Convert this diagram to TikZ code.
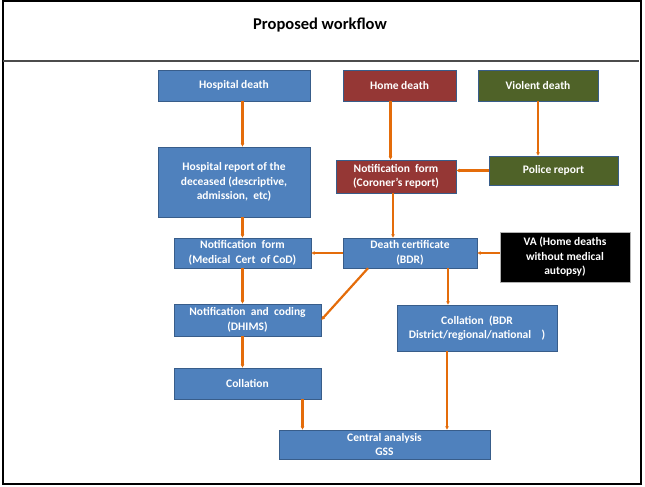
\documentclass[tikz,border=0pt]{standalone}
\usepackage{fontspec}
\setmainfont{Carlito}
\usetikzlibrary{arrows.meta}

\definecolor{boxblue}{HTML}{4F81BD}
\definecolor{boxline}{HTML}{385D8A}
\definecolor{homered}{HTML}{953735}
\definecolor{violgreen}{HTML}{4F6228}
\definecolor{flowor}{HTML}{E46C0A}

\begin{document}
\begin{tikzpicture}
[
	x=1pt,y=-1pt,
	stepbox/.style={draw=boxline,fill=boxblue,text=white,align=center,inner sep=1pt,
	  font=\fontsize{11.5}{14.5}\selectfont\bfseries},
	homebox/.style={stepbox,fill=homered,draw=boxline},
	violbox/.style={stepbox,fill=violgreen,draw=boxline},
	vabox/.style={stepbox,fill=black,draw=gray!60},
	flow/.style={-{Latex[length=3.5pt,width=4pt]},line width=2.2pt,flowor}
]

	% frame
	\useasboundingbox (0,0) rectangle (645,487);
	\draw[line width=2pt] (3,1) rectangle (641,484);
	\draw[line width=1.4pt,black!70] (3,61) -- (639,61);
	\node[font=\fontsize{16.5}{19}\selectfont\bfseries] (title) at (320,25) {Proposed workflow};

	% boxes
	\node[stepbox,minimum width=152,minimum height=31] (hdeath) at (234,85.5) {Hospital death};
	\node[homebox,minimum width=113,minimum height=31] (homedeath) at (399.5,85.5) {Home death};
	\node[violbox,minimum width=120,minimum height=31] (violent) at (538,85.5) {Violent death};
	\node[stepbox,minimum width=152,minimum height=70] (hreport) at (234,182)
	  {Hospital report of the\\ deceased (descriptive,\\ admission,\ \ etc)};
	\node[homebox,minimum width=120,minimum height=33] (coroner) at (396,176.5)
	  {Notification\ \ form\\ (Coroner's report)};
	\node[violbox,minimum width=129,minimum height=29] (police) at (553.5,170.5) {Police report};
	\node[stepbox,minimum width=137,minimum height=30] (medform) at (242.5,253)
	  {Notification\ \ form\\ (Medical\ \ Cert\ \ of CoD)};
	\node[stepbox,minimum width=134,minimum height=30] (deathcert) at (410,253)
	  {Death certificate\\ (BDR)};
	\node[vabox,minimum width=130,minimum height=50] (va) at (565,257)
	  {VA (Home deaths\\ without medical\\ autopsy)};
	\node[stepbox,minimum width=147,minimum height=32] (dhims) at (247.5,320)
	  {Notification\ \ and\ \ coding\\ (DHIMS)};
	\node[stepbox,minimum width=160,minimum height=46] (collbdr) at (477,328)
	  {Collation\ \ (BDR\\ District/regional/national\ \ \ \ )};
	\node[stepbox,minimum width=147,minimum height=31] (coll) at (247.5,383.5) {Collation};
	\node[stepbox,minimum width=211,minimum height=29] (central) at (384.5,444.5)
	  {Central analysis\\ GSS};

	% connectors
	\draw[flow] (hdeath.south -| medform) -- (hreport.north -| medform);
	\draw[flow] (hreport.south -| medform) -- (medform.north);
	\draw[flow] (medform.south) -- (medform.south |- dhims.north);
	\draw[flow] (dhims.south -| medform) -- (coll.north -| medform);
	\draw[flow] ([xshift=55]coll.south) -- ([xshift=55]coll.south |- central.north);
	\draw[flow] ([xshift=-9]homedeath.south) -- ([xshift=-9]homedeath.south |- coroner.north);
	\draw[flow] ([xshift=-3]coroner.south) -- ([xshift=-3]coroner.south |- deathcert.north);
	\draw[flow] (violent.south) -- (violent.south |- police.north);
	\draw[flow] (police.west) -- (coroner.east |- police.west);
	\draw[flow] (deathcert.west) -- (medform.east);
	\draw[flow] (va.west |- deathcert) -- (deathcert.east);
	\draw[flow] ([xshift=-42]deathcert.south) -- (dhims.east);
	\draw[flow] ([xshift=38]deathcert.south) -- ([xshift=38]deathcert.south |- collbdr.north);
	\draw[flow] ([xshift=-30]collbdr.south) -- ([xshift=-30]collbdr.south |- central.north);

\end{tikzpicture}
\end{document}
